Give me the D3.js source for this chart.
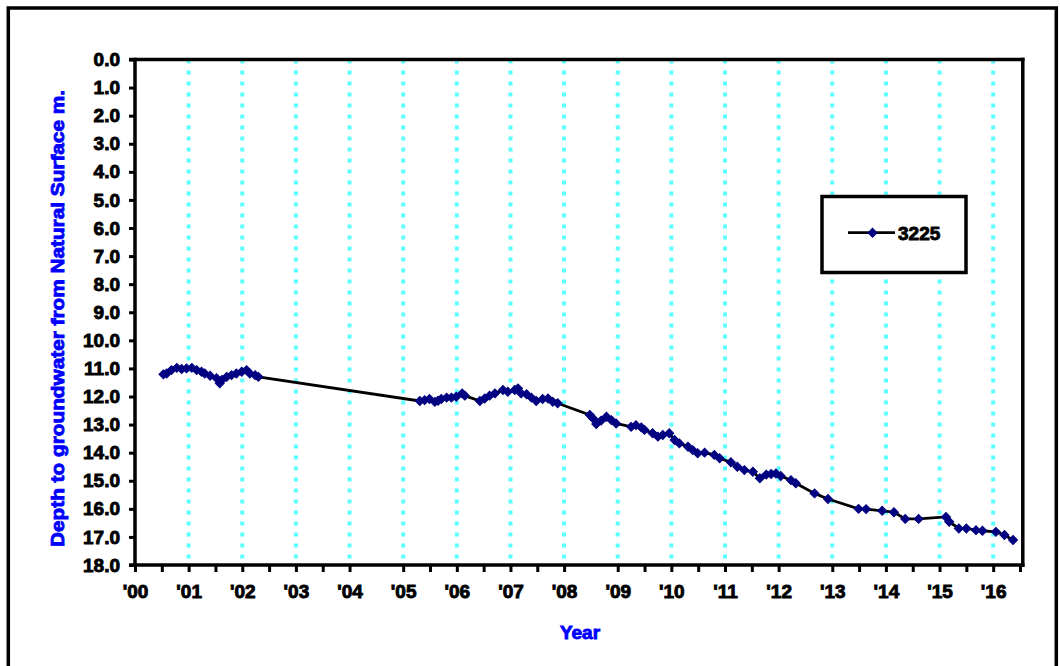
<!DOCTYPE html>
<html><head><meta charset="utf-8">
<script src="https://cdn.jsdelivr.net/npm/d3@7"></script>
<style>
body{margin:0;background:#fff;}
svg{display:block;}
text{font-family:"Liberation Sans",Arial,sans-serif;font-weight:bold;}
</style>
</head><body>
<svg id="c" width="1060" height="666"></svg>
<script>
// ---- data ----
const seriesName = "3225";
const years = [
  2000.53,2000.59,2000.68,2000.78,2000.87,2000.96,2001.06,2001.15,2001.24,2001.30,2001.40,
  2001.52,2001.58,2001.62,2001.71,2001.80,2001.89,2001.99,2002.08,2002.14,2002.24,2002.30,
  2005.31,2005.40,2005.49,2005.59,2005.65,2005.71,2005.81,2005.90,2005.99,2006.10,2006.15,
  2006.43,2006.52,2006.61,2006.71,2006.86,2006.95,2007.08,2007.14,2007.20,2007.30,2007.39,
  2007.48,2007.60,2007.70,2007.79,2007.88,
  2008.48,2008.54,2008.60,2008.69,2008.79,2008.88,2008.97,2009.25,2009.34,2009.44,2009.50,
  2009.65,2009.75,2009.84,2009.96,2010.06,2010.15,2010.31,2010.40,2010.49,2010.62,2010.80,
  2010.90,2011.11,2011.23,2011.36,2011.52,2011.65,2011.77,2011.86,2011.95,2012.04,2012.23,
  2012.32,2012.67,2012.92,2013.49,2013.63,2013.93,2014.15,2014.36,2014.61,2015.12,2015.18,
  2015.36,2015.50,2015.68,2015.80,2016.05,2016.21,2016.37
];
const depths = [
  11.21,11.18,11.06,10.98,11.02,11.00,10.98,11.06,11.12,11.18,11.26,
  11.35,11.53,11.41,11.30,11.24,11.18,11.12,11.06,11.18,11.24,11.30,
  12.16,12.13,12.09,12.19,12.15,12.09,12.04,12.04,12.01,11.89,11.97,
  12.16,12.07,11.97,11.89,11.77,11.83,11.77,11.71,11.89,11.92,12.04,
  12.16,12.09,12.07,12.19,12.24,
  12.66,12.78,12.98,12.86,12.72,12.84,12.96,13.08,13.02,13.10,13.19,
  13.31,13.43,13.37,13.31,13.55,13.67,13.79,13.91,14.02,14.00,14.08,
  14.20,14.34,14.50,14.62,14.68,14.91,14.78,14.76,14.74,14.83,14.98,
  15.09,15.45,15.65,16.00,16.01,16.07,16.12,16.36,16.36,16.29,16.46,
  16.70,16.70,16.76,16.78,16.82,16.93,17.11
];
const yTickValues = d3.range(0, 19);
const yTickLabels = ["0.0","1.0","2.0","3.0","4.0","5.0","6.0","7.0","8.0","9.0",
  "10.0","11.0","12.0","13.0","14.0","15.0","16.0","17.0","18.0"];
const xLabelYears = d3.range(2000, 2017);
const xTickLabels = ["'00","'01","'02","'03","'04","'05","'06","'07","'08","'09",
  "'10","'11","'12","'13","'14","'15","'16"];
const xTickValues = [2000,2000.5,2001,2001.5,2002,2002.5,2003,2003.5,2004,2005,2005.5,
  2006,2006.5,2007,2007.5,2008,2009,2009.5,2010,2010.5,2011,2011.5,2012,2013,2013.5,
  2014,2014.5,2015,2015.5,2016,2016.5];
const gridYears = d3.range(2001, 2017);
const yTitle = "Depth to groundwater from Natural Surface m.";
const xTitle = "Year";

// ---- drawing ----
const svg = d3.select("#c");
const x = d3.scaleLinear().domain([2000, 2016.5]).range([135, 1020]);
const y = d3.scaleLinear().domain([0, 18]).range([59.5, 565]);

// outer frame
svg.append("rect").attr("x", 8.3).attr("y", 8).attr("width", 1048).attr("height", 720)
  .attr("fill", "#fff").attr("stroke", "#000").attr("stroke-width", 3.5);

// gridlines
svg.append("g").selectAll("line").data(gridYears).join("line")
  .attr("x1", d => x(d)).attr("x2", d => x(d))
  .attr("y1", y(0)).attr("y2", y(18))
  .attr("stroke", "#5cffff").attr("stroke-width", 4).attr("stroke-dasharray", "4,7");

// axes
const yAxis = svg.append("g").attr("transform", "translate(135,0)")
  .call(d3.axisLeft(y).tickValues(yTickValues)
    .tickFormat((d, i) => yTickLabels[i]).tickSize(6).tickPadding(9).tickSizeOuter(0));
const xAxis = svg.append("g").attr("transform", "translate(0,565)")
  .call(d3.axisBottom(x).tickValues(xTickValues)
    .tickFormat(d => { const i = xLabelYears.indexOf(d); return i >= 0 ? xTickLabels[i] : ""; })
    .tickSize(7).tickPadding(13).tickSizeOuter(0));
[yAxis, xAxis].forEach(a => {
  a.select(".domain").remove();
  a.selectAll(".tick line").attr("stroke", "#000").attr("stroke-width", 3);
  a.selectAll(".tick text").attr("fill", "#000").attr("stroke", "#000").attr("stroke-width", 0.9)
    .style("font-size", "19px")
    .style("font-family", '"Liberation Sans",Arial,sans-serif').style("font-weight", "bold");
});

// plot frame
const fr = svg.append("g").attr("stroke", "#000").attr("stroke-width", 3.5);
fr.append("line").attr("x1", 135).attr("x2", 135).attr("y1", y(0) - 1.7).attr("y2", y(18) + 1.7);
fr.append("line").attr("x1", 129).attr("x2", 1024.5).attr("y1", y(18)).attr("y2", y(18));
fr.append("line").attr("x1", 129).attr("x2", 1024.5).attr("y1", y(0)).attr("y2", y(0));
fr.append("line").attr("x1", 1022.8).attr("x2", 1022.8).attr("y1", y(0) - 1.7).attr("y2", y(18) + 1.7);

// series line
const idx = d3.range(years.length);
svg.append("path").datum(idx)
  .attr("d", d3.line().x(i => x(years[i])).y(i => y(depths[i])))
  .attr("fill", "none").attr("stroke", "#000").attr("stroke-width", 2.8);
const sym = d3.symbol(d3.symbolSquare, 40);
svg.append("g").selectAll("path").data(idx).join("path")
  .attr("d", sym)
  .attr("transform", i => `translate(${x(years[i])},${y(depths[i])}) rotate(45)`)
  .attr("fill", "#000080").attr("stroke", "#000080").attr("stroke-width", 1);

// legend
const lg = svg.append("g");
lg.append("rect").attr("x", 822).attr("y", 196.5).attr("width", 144).attr("height", 76)
  .attr("fill", "#fff").attr("stroke", "#000").attr("stroke-width", 3.5);
lg.append("line").attr("x1", 848).attr("x2", 895).attr("y1", 232.7).attr("y2", 232.7)
  .attr("stroke", "#000").attr("stroke-width", 2.8);
lg.append("path").attr("d", sym).attr("transform", "translate(872.5,232.7) rotate(45)")
  .attr("fill", "#000080").attr("stroke", "#000080").attr("stroke-width", 1);
lg.append("text").attr("x", 898).attr("y", 239.5).style("font-size", "19px")
  .attr("fill", "#000").attr("stroke", "#000").attr("stroke-width", 0.9).text(seriesName);

// titles
svg.append("text").attr("transform", "translate(57.5,318.5) rotate(-90)")
  .attr("text-anchor", "middle").attr("dy", "0.35em").attr("fill", "#0000ff")
  .attr("stroke", "#0000ff").attr("stroke-width", 0.9)
  .style("font-size", "19px").attr("textLength", 457).attr("lengthAdjust", "spacingAndGlyphs")
  .text(yTitle);
svg.append("text").attr("x", 580).attr("y", 639).attr("text-anchor", "middle")
  .attr("fill", "#0000ff").attr("stroke", "#0000ff").attr("stroke-width", 0.9)
  .style("font-size", "19px").text(xTitle);
</script>
</body></html>
